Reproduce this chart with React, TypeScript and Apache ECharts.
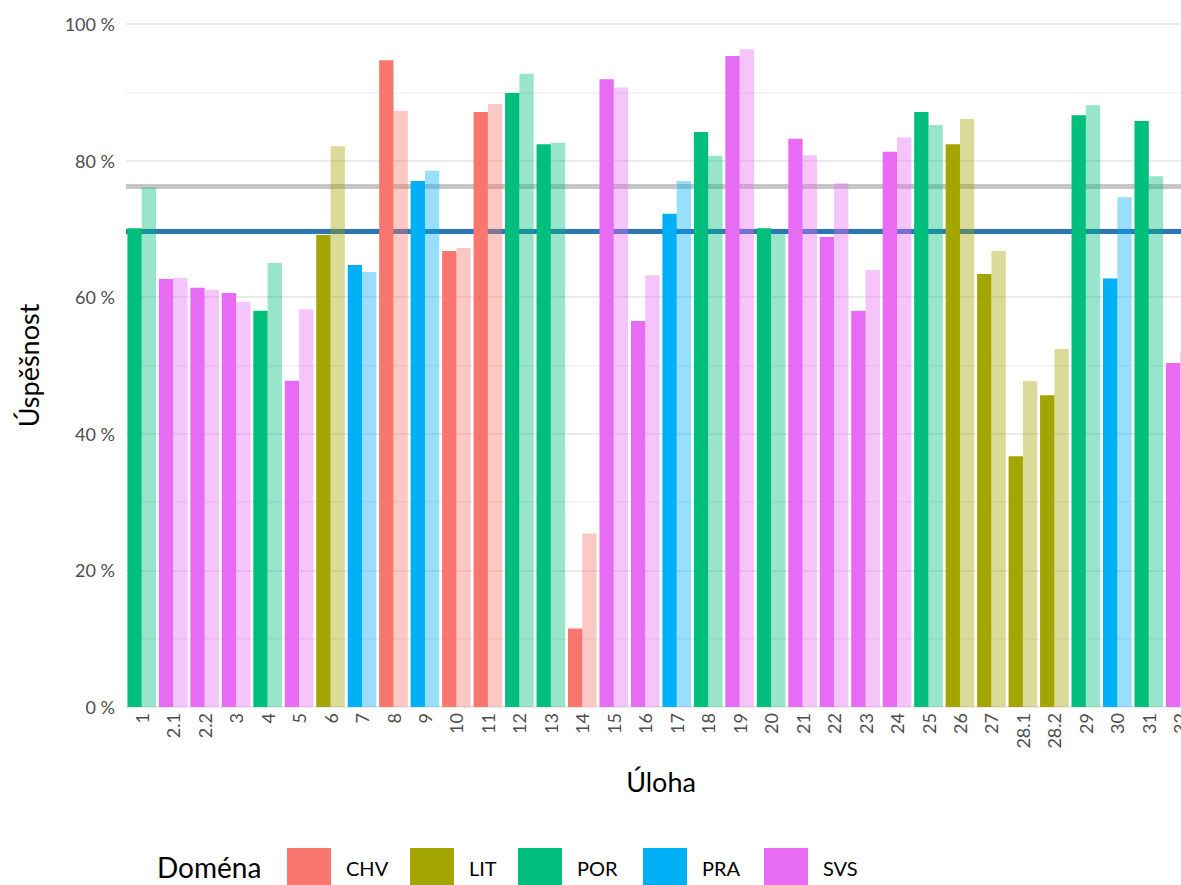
import React, { useEffect, useRef } from "react";
import * as echarts from "echarts";

const categories = ["1","2.1","2.2","3","4","5","6","7","8","9","10","11","12","13","14","15","16","17","18","19","20","21","22","23","24","25","26","27","28.1","28.2","29","30","31","32"];
const domains = ["POR","SVS","SVS","SVS","POR","SVS","LIT","PRA","CHV","PRA","CHV","CHV","POR","POR","CHV","SVS","SVS","PRA","POR","SVS","POR","SVS","SVS","SVS","SVS","POR","LIT","LIT","LIT","LIT","POR","PRA","POR","SVS"];
const schoolValues = [70.1,62.65,61.4,60.6,58.0,47.75,69.1,64.7,94.7,77.0,66.75,87.1,89.9,82.4,11.5,91.9,56.5,72.2,84.2,95.3,70.1,83.2,68.8,58.0,81.3,87.1,82.4,63.4,36.7,45.65,86.65,62.75,85.8,50.35];
const comparisonValues = [76.1,62.8,61.1,59.3,65.0,58.25,82.1,63.7,87.3,78.5,67.2,88.3,92.7,82.6,25.4,90.7,63.2,77.0,80.7,96.3,69.3,80.8,76.7,64.0,83.4,85.2,86.1,66.75,47.7,52.4,88.1,74.65,77.7,51.95];
const domainNames = ["CHV","LIT","POR","PRA","SVS"];
const domainColors = ["#F8766D","#A3A500","#00BF7D","#00B0F6","#E76BF3"];
const legendLefts = [287, 410, 518, 643, 764];
const schoolAverage = 69.6;
const comparisonAverage = 76.3;
const yTicks = [0, 20, 40, 60, 80, 100];

const FONT = "Lato, 'Open Sans', sans-serif";

export default function App() {
  const ref = useRef<HTMLDivElement>(null);
  useEffect(() => {
    if (!ref.current) return;
    const chart = echarts.init(ref.current, undefined, { renderer: "svg" });
    const colorOf = (d: string) => domainColors[domainNames.indexOf(d)];
    const option: any = {
      animation: false,
      backgroundColor: "#ffffff",
      textStyle: { fontFamily: FONT },
      grid: { left: 126, top: 24, right: -15, bottom: 178, containLabel: false, outerBoundsMode: "none" },
      xAxis: {
        type: "category",
        data: categories,
        name: "Úloha",
        nameLocation: "middle",
        nameGap: 61,
        nameTextStyle: { fontSize: 27, color: "#000", fontFamily: FONT },
        axisLine: { show: false },
        axisTick: { show: false },
        axisLabel: { rotate: 90, fontSize: 18, color: "#4D4D4D", margin: 6, fontFamily: FONT, interval: 0 },
        splitLine: { show: false },
      },
      yAxis: {
        type: "value",
        min: yTicks[0],
        max: yTicks[yTicks.length - 1],
        interval: 20,
        name: "Úspěšnost",
        nameLocation: "middle",
        nameGap: 84,
        nameTextStyle: { fontSize: 27, color: "#000", fontFamily: FONT },
        axisLine: { show: false },
        axisTick: { show: false },
        axisLabel: { fontSize: 18, color: "#4D4D4D", margin: 11, formatter: (v: number) => `${v} %`, fontFamily: FONT },
        splitLine: { show: true, lineStyle: { color: "#EBEBEB", width: 2 } },
        minorTick: { show: false, splitNumber: 2 },
        minorSplitLine: { show: true, lineStyle: { color: "#F0F0F0", width: 1.5 } },
      },
      legend: domainNames.map((d, i) => ({
        data: [d],
        left: legendLefts[i],
        top: 848,
        orient: "horizontal",
        icon: "rect",
        itemWidth: 44,
        itemHeight: 40,
        itemGap: 0,
        padding: 0,
        textStyle: { fontSize: 20, color: "#000", fontFamily: FONT, padding: [0, 0, 0, 10] },
        selectedMode: false,
      })),
      graphic: [
        { type: "text", left: 157, top: 853, style: { text: "Doména", fontSize: 28, fill: "#000", fontFamily: FONT } },
      ],
      series: [
        {
          name: "Škola",
          type: "bar",
          barGap: "0%",
          barCategoryGap: "9%",
          z: 3,
          data: schoolValues.map((v, i) => ({ value: v, itemStyle: { color: colorOf(domains[i]) } })),
          markLine: {
            silent: true,
            z: 1,
            symbol: "none",
            label: { show: false },
            data: [
              { yAxis: comparisonAverage, lineStyle: { color: "#C6C6C6", width: 5, type: "solid" } },
              { yAxis: schoolAverage, lineStyle: { color: "#2C76B4", width: 5, type: "solid" } },
            ],
          },
        },
        {
          name: "Srovnání",
          type: "bar",
          barGap: "0%",
          barCategoryGap: "9%",
          z: 3,
          data: comparisonValues.map((v, i) => ({ value: v, itemStyle: { color: colorOf(domains[i]), opacity: 0.4 } })),
        },
        ...domainNames.map((d, i) => ({
          name: d,
          type: "line",
          data: [],
          itemStyle: { color: domainColors[i] },
          lineStyle: { color: domainColors[i] },
        })),
      ],
    };
    chart.setOption(option);
    return () => chart.dispose();
  }, []);
  return (
    <div
      ref={ref}
      style={{ position: "fixed", left: 0, top: 0, width: 1181, height: 885, background: "#fff" }}
    />
  );
}
